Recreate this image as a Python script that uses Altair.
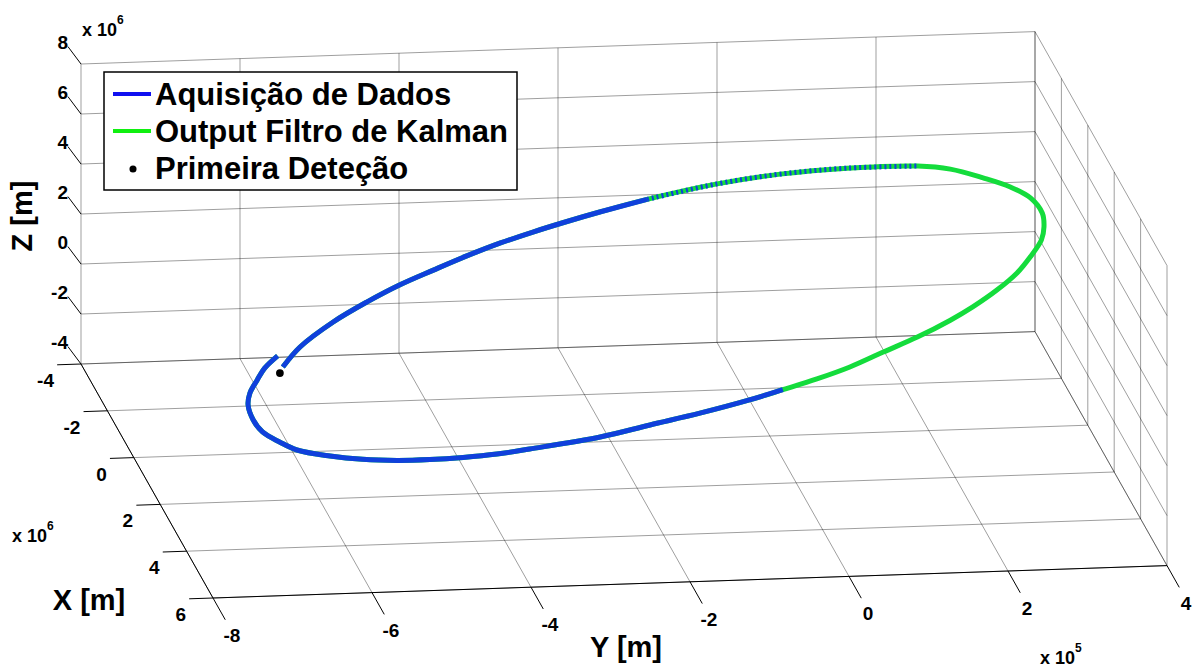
import altair as alt
import pandas as pd

W, H = 1192, 668
FONT = "Liberation Sans"
BLUE = "#1040dc"
GREEN = "#14dc3c"

# Axis ticks (X and Z in units of 10^6 m, Y in units of 10^5 m)
x_ticks = [-4, -2, 0, 2, 4, 6]
y_ticks = [-8, -6, -4, -2, 0, 2, 4]
z_ticks = [-4, -2, 0, 2, 4, 6, 8]

# Tracked trajectory
orbit_x = [0.87, 0.61, 0.29, 0.03, -0.19, -0.37, -0.55, -0.71, -0.84, -0.97,
           -1.08, -1.23, -1.41, -1.51, -1.56, -1.56, -1.50, -1.37, -1.23, -1.07,
           -0.86, -0.67, -0.50, -0.27, -0.06, 0.16, 0.38, 0.55, 0.76, 0.95,
           1.13, 1.28, 1.41, 1.53, 1.69, 1.83, 1.97, 2.10, 2.15, 2.18,
           2.19, 2.19, 2.16, 2.10, 2.00, 1.89, 1.74, 1.58, 1.37, 1.21,
           1.04, 0.88, 0.72]
orbit_y = [-6.27, -6.01, -5.54, -5.07, -4.62, -4.17, -3.72, -3.27, -2.84, -2.39,
           -1.96, -1.34, -0.43, 0.38, 1.23, 2.12, 2.52, 2.91, 3.23, 3.46,
           3.57, 3.56, 3.50, 3.32, 3.12, 2.83, 2.49, 2.18, 1.73, 1.27,
           0.82, 0.38, -0.07, -0.51, -1.16, -1.81, -2.46, -3.37, -3.79, -4.22,
           -4.64, -5.05, -5.48, -5.88, -6.28, -6.48, -6.67, -6.76, -6.79, -6.74,
           -6.62, -6.50, -6.31]
orbit_z = [0.25, 0.78, 1.43, 1.94, 2.37, 2.74, 3.09, 3.41, 3.68, 3.93,
           4.16, 4.46, 4.81, 5.02, 5.12, 5.11, 5.00, 4.73, 4.46, 4.14,
           3.73, 3.35, 3.00, 2.55, 2.13, 1.68, 1.25, 0.91, 0.48, 0.11,
           -0.27, -0.56, -0.82, -1.07, -1.38, -1.65, -1.93, -2.19, -2.30, -2.36,
           -2.39, -2.38, -2.32, -2.20, -2.01, -1.77, -1.49, -1.15, -0.74, -0.42,
           -0.07, 0.24, 0.56]

# First detection
first_x, first_y, first_z = [0.95], [-6.32], [0.09]

series_names = ["Aquisição de Dados", "Output Filtro de Kalman", "Primeira Deteção"]


def proj(x, y, z):
    """Orthographic view of the 3-D box onto the page plane."""
    px = 81 + 13.2 * (x + 4) + 79.5 * (y + 8)
    py = 364 + 23.4 * (x + 4) - 25.0 * (z + 4) - 2.7 * (y + 8)
    return px, py


X0, X1 = x_ticks[0], x_ticks[-1]
Y0, Y1 = y_ticks[0], y_ticks[-1]
Z0, Z1 = z_ticks[0], z_ticks[-1]

# ---- grid planes, axis lines and ticks ----
grid_rows, axis_rows = [], []


def seg(rows, a, b):
    x1, y1 = proj(*a)
    x2, y2 = proj(*b)
    rows.append(dict(px=x1, py=y1, px2=x2, py2=y2))


for xv in x_ticks:  # floor
    seg(grid_rows, (xv, Y0, Z0), (xv, Y1, Z0))
for yv in y_ticks:
    seg(grid_rows, (X0, yv, Z0), (X1, yv, Z0))
for zv in z_ticks:  # back wall
    seg(grid_rows, (X0, Y0, zv), (X0, Y1, zv))
for yv in y_ticks:
    seg(grid_rows, (X0, yv, Z0), (X0, yv, Z1))
for zv in z_ticks:  # side wall
    seg(grid_rows, (X0, Y1, zv), (X1, Y1, zv))
for xv in x_ticks:
    seg(grid_rows, (xv, Y1, Z0), (xv, Y1, Z1))

seg(axis_rows, (X0, Y0, Z0), (X1, Y0, Z0))
seg(axis_rows, (X1, Y0, Z0), (X1, Y1, Z0))
for zv in z_ticks:
    seg(axis_rows, (X0, Y0, zv), (X0 - 0.75, Y0 - 0.04, zv))
for xv in x_ticks:
    seg(axis_rows, (xv, Y0, Z0), (xv, Y0 - 0.3, Z0))
for yv in y_ticks:
    seg(axis_rows, (X1, yv, Z0), (X1 + 0.93, yv, Z0))

grid_df = pd.DataFrame(grid_rows)
axis_df = pd.DataFrame(axis_rows)


def labels(vals, pts):
    out = []
    for v, p in zip(vals, pts):
        px, py = proj(*p)
        out.append(dict(px=px, py=py, t=str(v)))
    return pd.DataFrame(out)


zlab = labels(z_ticks, [(X0, Y0, v) for v in z_ticks])
xlab = labels(x_ticks, [(v, Y0, Z0) for v in x_ticks])
ylab = labels(y_ticks, [(X1, v, Z0) for v in y_ticks])

# ---- trajectory ----
orb = pd.DataFrame({"X": orbit_x, "Y": orbit_y, "Z": orbit_z})
orb["px"], orb["py"] = proj(orb.X, orb.Y, orb.Z)
orb["i"] = range(len(orb))
n = len(orb)


def part(lo, hi, name):
    d = orb[(orb.i >= lo) & (orb.i <= hi)].copy()
    d["part"] = name
    return d


blue_top = pd.concat([part(0, 11, "a"), part(32, n - 1, "b")])
blue_mix = part(11, 15, "m")

fd = pd.DataFrame({"X": first_x, "Y": first_y, "Z": first_z})
fd["px"], fd["py"] = proj(fd.X, fd.Y, fd.Z)

xs = alt.Scale(domain=[0, W], nice=False, zero=False)
ys = alt.Scale(domain=[0, H], nice=False, zero=False, reverse=True)
ex = alt.X("px:Q", scale=xs, axis=None)
ey = alt.Y("py:Q", scale=ys, axis=None)

grid = alt.Chart(grid_df).mark_rule(color="#000000", opacity=0.38, strokeWidth=1).encode(
    x=ex, y=ey, x2="px2:Q", y2="py2:Q")
axes = alt.Chart(axis_df).mark_rule(color="#000000", strokeWidth=1).encode(
    x=ex, y=ey, x2="px2:Q", y2="py2:Q")

tick_style = dict(font=FONT, fontSize=19, fontWeight="bold", color="black", baseline="middle")
zt = alt.Chart(zlab).mark_text(align="right", dx=-13, dy=-21, **tick_style).encode(x=ex, y=ey, text="t:N")
xt = alt.Chart(xlab).mark_text(align="right", dx=-27, dy=17, **tick_style).encode(x=ex, y=ey, text="t:N")
yt = alt.Chart(ylab).mark_text(align="center", dx=19, dy=38, **tick_style).encode(x=ex, y=ey, text="t:N")

line_style = dict(strokeWidth=5, interpolate="catmull-rom", strokeCap="butt")
green_line = alt.Chart(orb).mark_line(color=GREEN, **line_style).encode(x=ex, y=ey, order="i:Q")
blue_line = alt.Chart(blue_top).mark_line(color=BLUE, **line_style).encode(
    x=ex, y=ey, order="i:Q", detail="part:N")
mix_line = alt.Chart(blue_mix).mark_line(color=BLUE, strokeDash=[2, 3], **line_style).encode(
    x=ex, y=ey, order="i:Q", detail="part:N")
first_pt = alt.Chart(fd).mark_circle(color="black", size=60, opacity=1).encode(x=ex, y=ey)

one = pd.DataFrame({"k": [0]})


def txt(s, x, y, size, align="left", angle=0, baseline="alphabetic"):
    return alt.Chart(one).mark_text(
        font=FONT, fontSize=size, fontWeight="bold", color="black",
        align=align, baseline=baseline, angle=angle
    ).encode(x=alt.value(x), y=alt.value(y), text=alt.value(s))


titles = [
    txt("Z [m]", 23, 216, 29, align="center", angle=270, baseline="middle"),
    txt("X [m]", 89, 601, 29, align="center", baseline="middle"),
    txt("Y [m]", 626, 648, 29, align="center", baseline="middle"),
    txt("x 10", 82, 36, 18), txt("6", 117, 24, 12),
    txt("x 10", 12, 542, 18), txt("6", 47, 530, 12),
    txt("x 10", 1040, 664, 18), txt("5", 1075, 652, 12),
]

# legend box
leg_box = alt.Chart(one).mark_rect(fill="white", stroke="black", strokeWidth=1.5).encode(
    x=alt.value(104), x2=alt.value(517), y=alt.value(72), y2=alt.value(190))
leg_l1 = alt.Chart(one).mark_rule(color="#1010f0", strokeWidth=4).encode(
    x=alt.value(113), x2=alt.value(151), y=alt.value(94))
leg_l2 = alt.Chart(one).mark_rule(color="#10f010", strokeWidth=4).encode(
    x=alt.value(113), x2=alt.value(151), y=alt.value(131))
leg_pt = alt.Chart(one).mark_circle(color="black", size=50, opacity=1).encode(
    x=alt.value(133), y=alt.value(169))
leg_txt = [txt(series_names[0], 155, 105, 31),
           txt(series_names[1], 155, 142, 31),
           txt(series_names[2], 155, 179, 31)]

chart = alt.layer(
    grid, axes, zt, xt, yt, green_line, blue_line, mix_line, first_pt,
    *titles, leg_box, leg_l1, leg_l2, leg_pt, *leg_txt
).properties(
    width=W, height=H, padding=0, autosize="none", background="white"
).configure_view(stroke=None)

chart.save("out.html", embed_options={"renderer": "svg", "actions": False})
